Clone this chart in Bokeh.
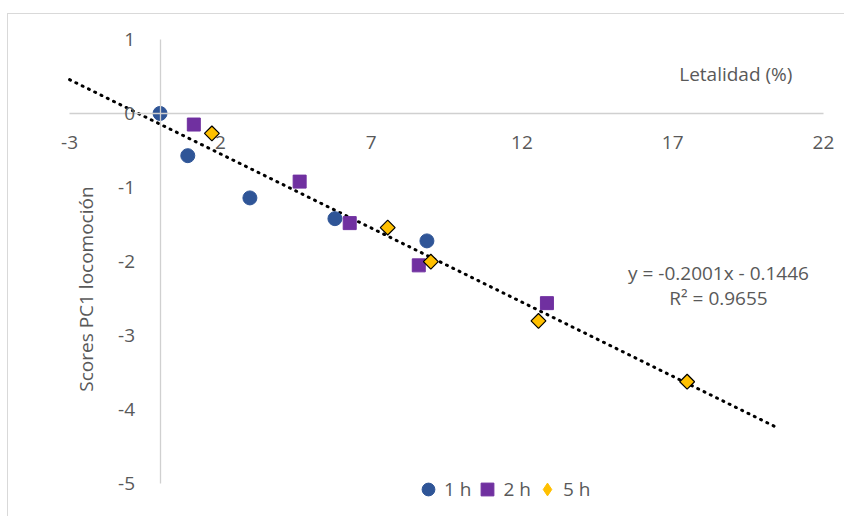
import numpy as np
from bokeh.plotting import figure
from bokeh.models import (ColumnDataSource, Label, Legend, LegendItem, FixedTicker,
                          LinearAxis, Range1d, PrintfTickFormatter)
from bokeh.embed import file_html
from bokeh.resources import INLINE

# ---- data ----
x_1h = [0.0, 0.92, 2.98, 5.8, 8.85]
y_1h = [0.0, -0.57, -1.14, -1.42, -1.72]
x_2h = [1.12, 4.63, 6.29, 8.58, 12.83]
y_2h = [-0.15, -0.92, -1.48, -2.05, -2.56]
x_5h = [1.72, 7.55, 8.98, 12.55, 17.48]
y_5h = [-0.27, -1.54, -2.0, -2.80, -3.62]
series_names = ["1 h", "2 h", "5 h"]
slope = -0.2001
intercept = -0.1446
r_squared = 0.9655
forecast = 3.0
x_ticks = [-3, 2, 7, 12, 17, 22]
y_ticks = [1, 0, -1, -2, -3, -4, -5]

FONT = "Open Sans"
GRAY = "#595959"
AXIS = "#D0D0D0"
FS = "19px"
BLUE, PURPLE, YELLOW = "#2F5597", "#7030A0", "#FFC000"

p = figure(width=837, height=503, output_backend="svg", toolbar_location=None,
           x_range=Range1d(-3.5, 22.4), y_range=Range1d(-5.25, 1.2),
           min_border_left=46, min_border_right=10, min_border_top=10, min_border_bottom=15,
           x_axis_type=None, y_axis_type=None)
p.grid.visible = False
p.outline_line_color = None
p.background_fill_color = "white"
p.border_fill_color = "white"
p.styles = {"margin-top": "13px", "margin-left": "7px",
            "border-left": "1px solid #D9D9D9", "border-top": "1px solid #D9D9D9"}

xa = LinearAxis(ticker=FixedTicker(ticks=x_ticks), fixed_location=0, bounds=(-3, 22))
ya = LinearAxis(ticker=FixedTicker(ticks=y_ticks), fixed_location=0, bounds=(-5, 1))
for ax in (xa, ya):
    ax.formatter = PrintfTickFormatter(format="%d")
    ax.axis_line_color = AXIS
    ax.axis_line_width = 1.3
    ax.major_tick_line_color = None
    ax.minor_tick_line_color = None
    ax.major_label_text_font = FONT
    ax.major_label_text_font_size = FS
    ax.major_label_text_color = GRAY
xa.major_label_standoff = 17
ya.major_label_standoff = 19
p.add_layout(xa, "below")
p.add_layout(ya, "left")

# trendline
tx = np.array([min(x_1h + x_2h + x_5h) - forecast, max(x_1h + x_2h + x_5h) + forecast])
ty = slope * tx + intercept
p.line(tx, ty, line_color="black", line_width=3, line_dash="1 6", line_cap="round")

s1 = ColumnDataSource(dict(x=x_1h, y=y_1h))
s2 = ColumnDataSource(dict(x=x_2h, y=y_2h))
s3 = ColumnDataSource(dict(x=x_5h, y=y_5h))
g1 = p.scatter("x", "y", source=s1, marker="circle", size=14, fill_color=BLUE, line_color=BLUE)
g2 = p.scatter("x", "y", source=s2, marker="square", size=13, fill_color=PURPLE, line_color=PURPLE)
# diamond used for the legend entry; drawn underneath (and hidden by) the rotated squares
g3_leg = p.scatter("x", "y", source=s3, marker="diamond", size=13, fill_color=YELLOW, line_color=YELLOW)
g3 = p.scatter("x", "y", source=s3, marker="square", size=10.5, angle=np.pi / 4,
               fill_color=YELLOW, line_color="black", line_width=1.2)

# texts
p.add_layout(Label(x=20.97, y=0.53, text="Letalidad (%)", text_align="right", text_baseline="middle",
                   text_font=FONT, text_font_size=FS, text_color=GRAY))
p.add_layout(Label(x=18.52, y=-2.155, text=f"y = {slope:.4f}x - {abs(intercept):.4f}", text_align="center",
                   text_baseline="middle", text_font=FONT, text_font_size=FS, text_color=GRAY))
p.add_layout(Label(x=18.52, y=-2.49, text=f"R² = {r_squared:.4f}", text_align="center",
                   text_baseline="middle", text_font=FONT, text_font_size=FS, text_color=GRAY))
p.add_layout(Label(x=-2.47, y=-2.37, text="Scores PC1 locomoción", angle=np.pi / 2, text_align="center",
                   text_baseline="middle", text_font=FONT, text_font_size=FS, text_color=GRAY))

legend = Legend(items=[LegendItem(label=series_names[0], renderers=[g1]),
                       LegendItem(label=series_names[1], renderers=[g2]),
                       LegendItem(label=series_names[2], renderers=[g3_leg])],
                orientation="horizontal", location=(358, -3), padding=0, margin=0,
                spacing=0, glyph_width=32, glyph_height=32, label_standoff=0,
                label_text_font=FONT, label_text_font_size=FS, label_text_color=GRAY,
                border_line_color=None, background_fill_alpha=0, label_height=32)
p.add_layout(legend, "center")

open("out.html", "w").write(file_html(p, INLINE))
